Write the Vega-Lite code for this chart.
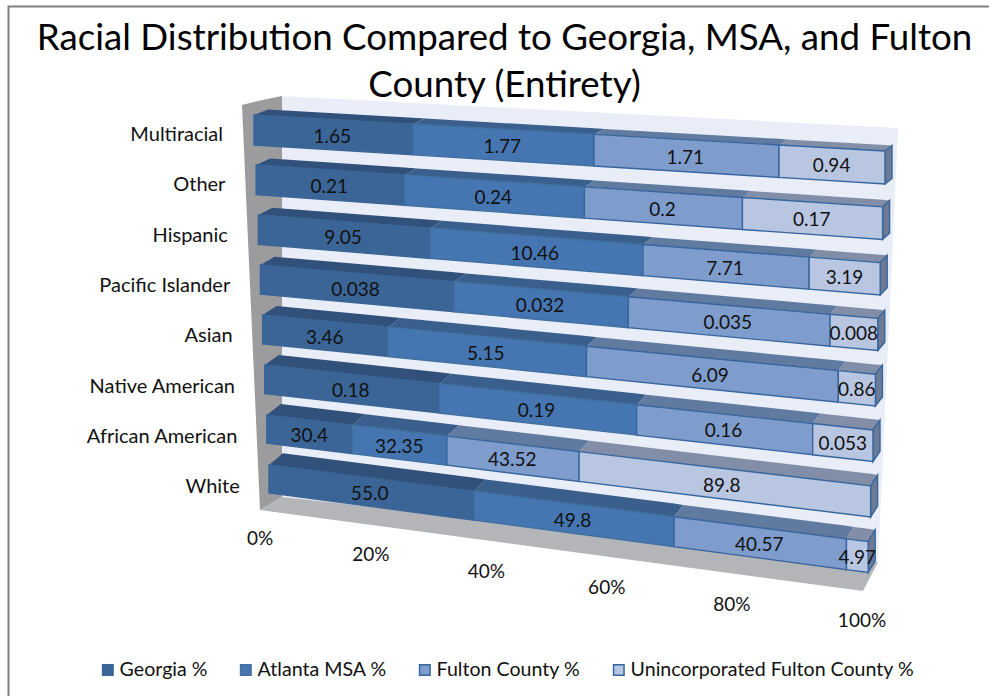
{
"$schema":"https://vega.github.io/schema/vega-lite/v6.json",
"width":989,"height":696,"autosize":"none","padding":0,"background":"white",
"config":{"view":{"stroke":null}},
"title":{"text":["Racial Distribution Compared to Georgia, MSA, and Fulton","County (Entirety)"],"font":"Lato","fontSize":36.7,"fontWeight":"normal","color":"#000000","anchor":"middle","offset":-134,"baseline":"alphabetic","lineHeight":47,"dx":10},
"encoding":{
"x":{"field":"px","type":"quantitative","scale":{"domain":[0,989],"zero":false,"nice":false},"axis":null},
"y":{"field":"top","type":"quantitative","scale":{"domain":[696,0],"zero":false,"nice":false},"axis":null}
},
"layer":[
{"data":{"values":[{"panel":"frame"}]},
 "transform":[{"calculate":"[0,1,2]","as":"k"},{"flatten":["k"]},
 {"calculate":"[8.5,8.5,989][datum.k]","as":"px"},{"calculate":"[696,6.5,6.5][datum.k]","as":"top"}],
 "mark":{"type":"line","color":"#808080","strokeWidth":2},"encoding":{"order":{"field":"k","type":"quantitative"}}},
{"data":{"values":[{"panel":"back wall"}]},
 "transform":[{"calculate":"[0,1,2]","as":"k"},{"flatten":["k"]},
 {"calculate":"[280,878,898][datum.k]","as":"px"},{"calculate":"[96,127,128][datum.k]","as":"top"},{"calculate":"[497,562,128][datum.k]","as":"bot"}],
 "mark":{"type":"area","color":"#E9EDF7"},"encoding":{"y2":{"field":"bot"}}},
{"data":{"values":[{"panel":"side wall"}]},
 "transform":[{"calculate":"[0,1,2]","as":"k"},{"flatten":["k"]},
 {"calculate":"[242,260,282][datum.k]","as":"px"},{"calculate":"[105,100.6,96][datum.k]","as":"top"},{"calculate":"[105,510,497][datum.k]","as":"bot"}],
 "mark":{"type":"area","color":"#9C9C9F"},"encoding":{"y2":{"field":"bot"}}},
{"data":{"values":[{"panel":"floor"}]},
 "transform":[{"calculate":"[0,1,2,3]","as":"k"},{"flatten":["k"]},
 {"calculate":"[260,282,863,878][datum.k]","as":"px"},{"calculate":"[510,497,560.4,562][datum.k]","as":"top"},{"calculate":"[510,513,591,562][datum.k]","as":"bot"}],
 "mark":{"type":"area","color":"#B3B5B8"},"encoding":{"y2":{"field":"bot"}}},
{"data":{"values":[{"pct":0},{"pct":20},{"pct":40},{"pct":60},{"pct":80},{"pct":100}]},
 "transform":[{"calculate":"datum.pct/100","as":"t"},{"calculate":"260+602*datum.t*(0.9+0.1*datum.t)","as":"px"},{"calculate":"539+82*datum.t","as":"top"},{"calculate":"datum.pct+'%'","as":"lab"}],
 "mark":{"type":"text","font":"Lato","fontSize":19,"color":"#111111","align":"center","baseline":"middle"},"encoding":{"text":{"field":"lab"}}},
{"data":{"name":"rows","values":[
{"category":"Multiracial","series":"Georgia %","value":1.65,"label":"1.65"},
{"category":"Multiracial","series":"Atlanta MSA %","value":1.77,"label":"1.77"},
{"category":"Multiracial","series":"Fulton County %","value":1.71,"label":"1.71"},
{"category":"Multiracial","series":"Unincorporated Fulton County %","value":0.94,"label":"0.94"},
{"category":"Other","series":"Georgia %","value":0.21,"label":"0.21"},
{"category":"Other","series":"Atlanta MSA %","value":0.24,"label":"0.24"},
{"category":"Other","series":"Fulton County %","value":0.2,"label":"0.2"},
{"category":"Other","series":"Unincorporated Fulton County %","value":0.17,"label":"0.17"},
{"category":"Hispanic","series":"Georgia %","value":9.05,"label":"9.05"},
{"category":"Hispanic","series":"Atlanta MSA %","value":10.46,"label":"10.46"},
{"category":"Hispanic","series":"Fulton County %","value":7.71,"label":"7.71"},
{"category":"Hispanic","series":"Unincorporated Fulton County %","value":3.19,"label":"3.19"},
{"category":"Pacific Islander","series":"Georgia %","value":0.038,"label":"0.038"},
{"category":"Pacific Islander","series":"Atlanta MSA %","value":0.032,"label":"0.032"},
{"category":"Pacific Islander","series":"Fulton County %","value":0.035,"label":"0.035"},
{"category":"Pacific Islander","series":"Unincorporated Fulton County %","value":0.008,"label":"0.008"},
{"category":"Asian","series":"Georgia %","value":3.46,"label":"3.46"},
{"category":"Asian","series":"Atlanta MSA %","value":5.15,"label":"5.15"},
{"category":"Asian","series":"Fulton County %","value":6.09,"label":"6.09"},
{"category":"Asian","series":"Unincorporated Fulton County %","value":0.86,"label":"0.86"},
{"category":"Native American","series":"Georgia %","value":0.18,"label":"0.18"},
{"category":"Native American","series":"Atlanta MSA %","value":0.19,"label":"0.19"},
{"category":"Native American","series":"Fulton County %","value":0.16,"label":"0.16"},
{"category":"Native American","series":"Unincorporated Fulton County %","value":0.053,"label":"0.053"},
{"category":"African American","series":"Georgia %","value":30.4,"label":"30.4"},
{"category":"African American","series":"Atlanta MSA %","value":32.35,"label":"32.35"},
{"category":"African American","series":"Fulton County %","value":43.52,"label":"43.52"},
{"category":"African American","series":"Unincorporated Fulton County %","value":89.8,"label":"89.8"},
{"category":"White","series":"Georgia %","value":55.0,"label":"55.0"},
{"category":"White","series":"Atlanta MSA %","value":49.8,"label":"49.8"},
{"category":"White","series":"Fulton County %","value":40.57,"label":"40.57"},
{"category":"White","series":"Unincorporated Fulton County %","value":4.97,"label":"4.97"}
]},
"transform":[
{"calculate":"indexof(['Multiracial','Other','Hispanic','Pacific Islander','Asian','Native American','African American','White'],datum.category)","as":"r"},
{"calculate":"indexof(['Georgia %','Atlanta MSA %','Fulton County %','Unincorporated Fulton County %'],datum.series)","as":"s"},
{"stack":"value","groupby":["category"],"offset":"normalize","sort":[{"field":"s","order":"ascending"}],"as":["t0","t1"]},
{"calculate":"datum.t0*(0.9+0.1*datum.t0)","as":"f0"},
{"calculate":"datum.t1*(0.9+0.1*datum.t1)","as":"f1"},
{"calculate":"254+2.14*datum.r","as":"xL"},
{"calculate":"885-2.4*datum.r","as":"xR"},
{"calculate":"115+50*datum.r","as":"yTL"},
{"calculate":"145+49.7*datum.r","as":"yBL"},
{"calculate":"151+55.8*datum.r","as":"yTR"},
{"calculate":"184+55.5*datum.r","as":"yBR"},
{"calculate":"5.5+0.9*datum.r","as":"d"},
{"calculate":"datum.xL+datum.f0*(datum.xR-datum.xL)","as":"ax"},
{"calculate":"datum.xL+datum.f1*(datum.xR-datum.xL)","as":"bx"},
{"calculate":"datum.yTL+datum.f0*(datum.yTR-datum.yTL)","as":"ay"},
{"calculate":"datum.yTL+datum.f1*(datum.yTR-datum.yTL)","as":"by"}
],
"layer":[
{"transform":[
 {"calculate":"[0,1,2,3]","as":"k"},{"flatten":["k"]},
 {"calculate":"datum.ax+14-7*datum.f0","as":"cx"},
 {"calculate":"datum.bx+14-7*datum.f1","as":"ex"},
 {"calculate":"(datum.yTR-datum.yTL)/(datum.xR-datum.xL)","as":"m"},
 {"calculate":"[datum.ax,datum.cx,datum.bx,datum.ex][datum.k]","as":"px"},
 {"calculate":"[datum.ay,datum.ay-datum.d,datum.ay-datum.d+(datum.bx-datum.cx)*datum.m,datum.by-datum.d][datum.k]","as":"top"},
 {"calculate":"[datum.ay,datum.ay+(datum.cx-datum.ax)*datum.m,datum.by,datum.by-datum.d][datum.k]","as":"bot"},
 {"calculate":"['#31507A','#3A5F8D','#607B9F','#828EA8'][datum.s]","as":"faceColor"}
 ],
 "mark":{"type":"area"},
 "encoding":{"y2":{"field":"bot"},"detail":{"field":"label"},"color":{"field":"faceColor","type":"nominal","scale":null,"legend":null}}},
{"transform":[{"filter":"datum.s==3"},
 {"calculate":"[0,1]","as":"k"},{"flatten":["k"]},
 {"calculate":"datum.xR+datum.k*7","as":"px"},
 {"calculate":"datum.yTR-datum.k*datum.d","as":"top"},
 {"calculate":"datum.yBR-datum.k*datum.d","as":"bot"}],
 "mark":{"type":"area","color":"#6C7A96","stroke":"#37669E","strokeWidth":1.4},
 "encoding":{"y2":{"field":"bot"},"detail":{"field":"category"}}},
{"transform":[
 {"calculate":"[0,1]","as":"k"},{"flatten":["k"]},
 {"calculate":"datum.k?datum.f1:datum.f0","as":"f"},
 {"calculate":"datum.xL+datum.f*(datum.xR-datum.xL)","as":"px"},
 {"calculate":"datum.yTL+datum.f*(datum.yTR-datum.yTL)","as":"top"},
 {"calculate":"datum.yBL+datum.f*(datum.yBR-datum.yBL)","as":"bot"}],
 "mark":{"type":"area","strokeWidth":1.4},
 "encoding":{"y2":{"field":"bot"},"detail":{"field":"label"},
 "fill":{"field":"series","type":"nominal","sort":["Georgia %","Atlanta MSA %","Fulton County %","Unincorporated Fulton County %"],
  "scale":{"domain":["Georgia %","Atlanta MSA %","Fulton County %","Unincorporated Fulton County %"],"range":["#3A6596","#4676B2","#7F9DCC","#B9C6E1"]},
  "legend":{"title":null,"orient":"none","legendX":98,"legendY":660,"direction":"horizontal","columns":4,"gridAlign":"each","symbolType":"square","symbolSize":110,"symbolStrokeWidth":1.5,"labelFont":"Lato","labelFontSize":19.6,"labelColor":"#111111","labelLimit":400,"columnPadding":28,"labelOffset":2}},
 "stroke":{"field":"series","type":"nominal","sort":["Georgia %","Atlanta MSA %","Fulton County %","Unincorporated Fulton County %"],
  "scale":{"domain":["Georgia %","Atlanta MSA %","Fulton County %","Unincorporated Fulton County %"],"range":["#3A6596","#40709F","#37669E","#37669E"]},
  "legend":{"title":null,"orient":"none","legendX":98,"legendY":660,"direction":"horizontal","columns":4,"gridAlign":"each","symbolType":"square","symbolSize":110,"symbolStrokeWidth":1.5,"labelFont":"Lato","labelFontSize":19.6,"labelColor":"#111111","labelLimit":400,"columnPadding":28,"labelOffset":2}}}},
{"transform":[
 {"calculate":"(datum.t0+datum.t1)/2","as":"t"},
 {"calculate":"datum.t*(0.9+0.1*datum.t)","as":"f"},
 {"calculate":"datum.xL+datum.f*(datum.xR-datum.xL)","as":"px"},
 {"calculate":"2+(datum.yTL+datum.yBL)/2+datum.f*((datum.yTR+datum.yBR)-(datum.yTL+datum.yBL))/2","as":"top"}],
 "mark":{"type":"text","font":"Lato","fontSize":19,"color":"#111111","align":"center","baseline":"middle"},
 "encoding":{"text":{"field":"label"}}},
{"transform":[{"filter":"datum.s==0"},
 {"calculate":"223+2.4*datum.r","as":"px"},
 {"calculate":"135+50.3*datum.r","as":"top"}],
 "mark":{"type":"text","font":"Lato","fontSize":20,"color":"#111111","align":"right","baseline":"middle"},
 "encoding":{"text":{"field":"category"}}}
]}
]}
